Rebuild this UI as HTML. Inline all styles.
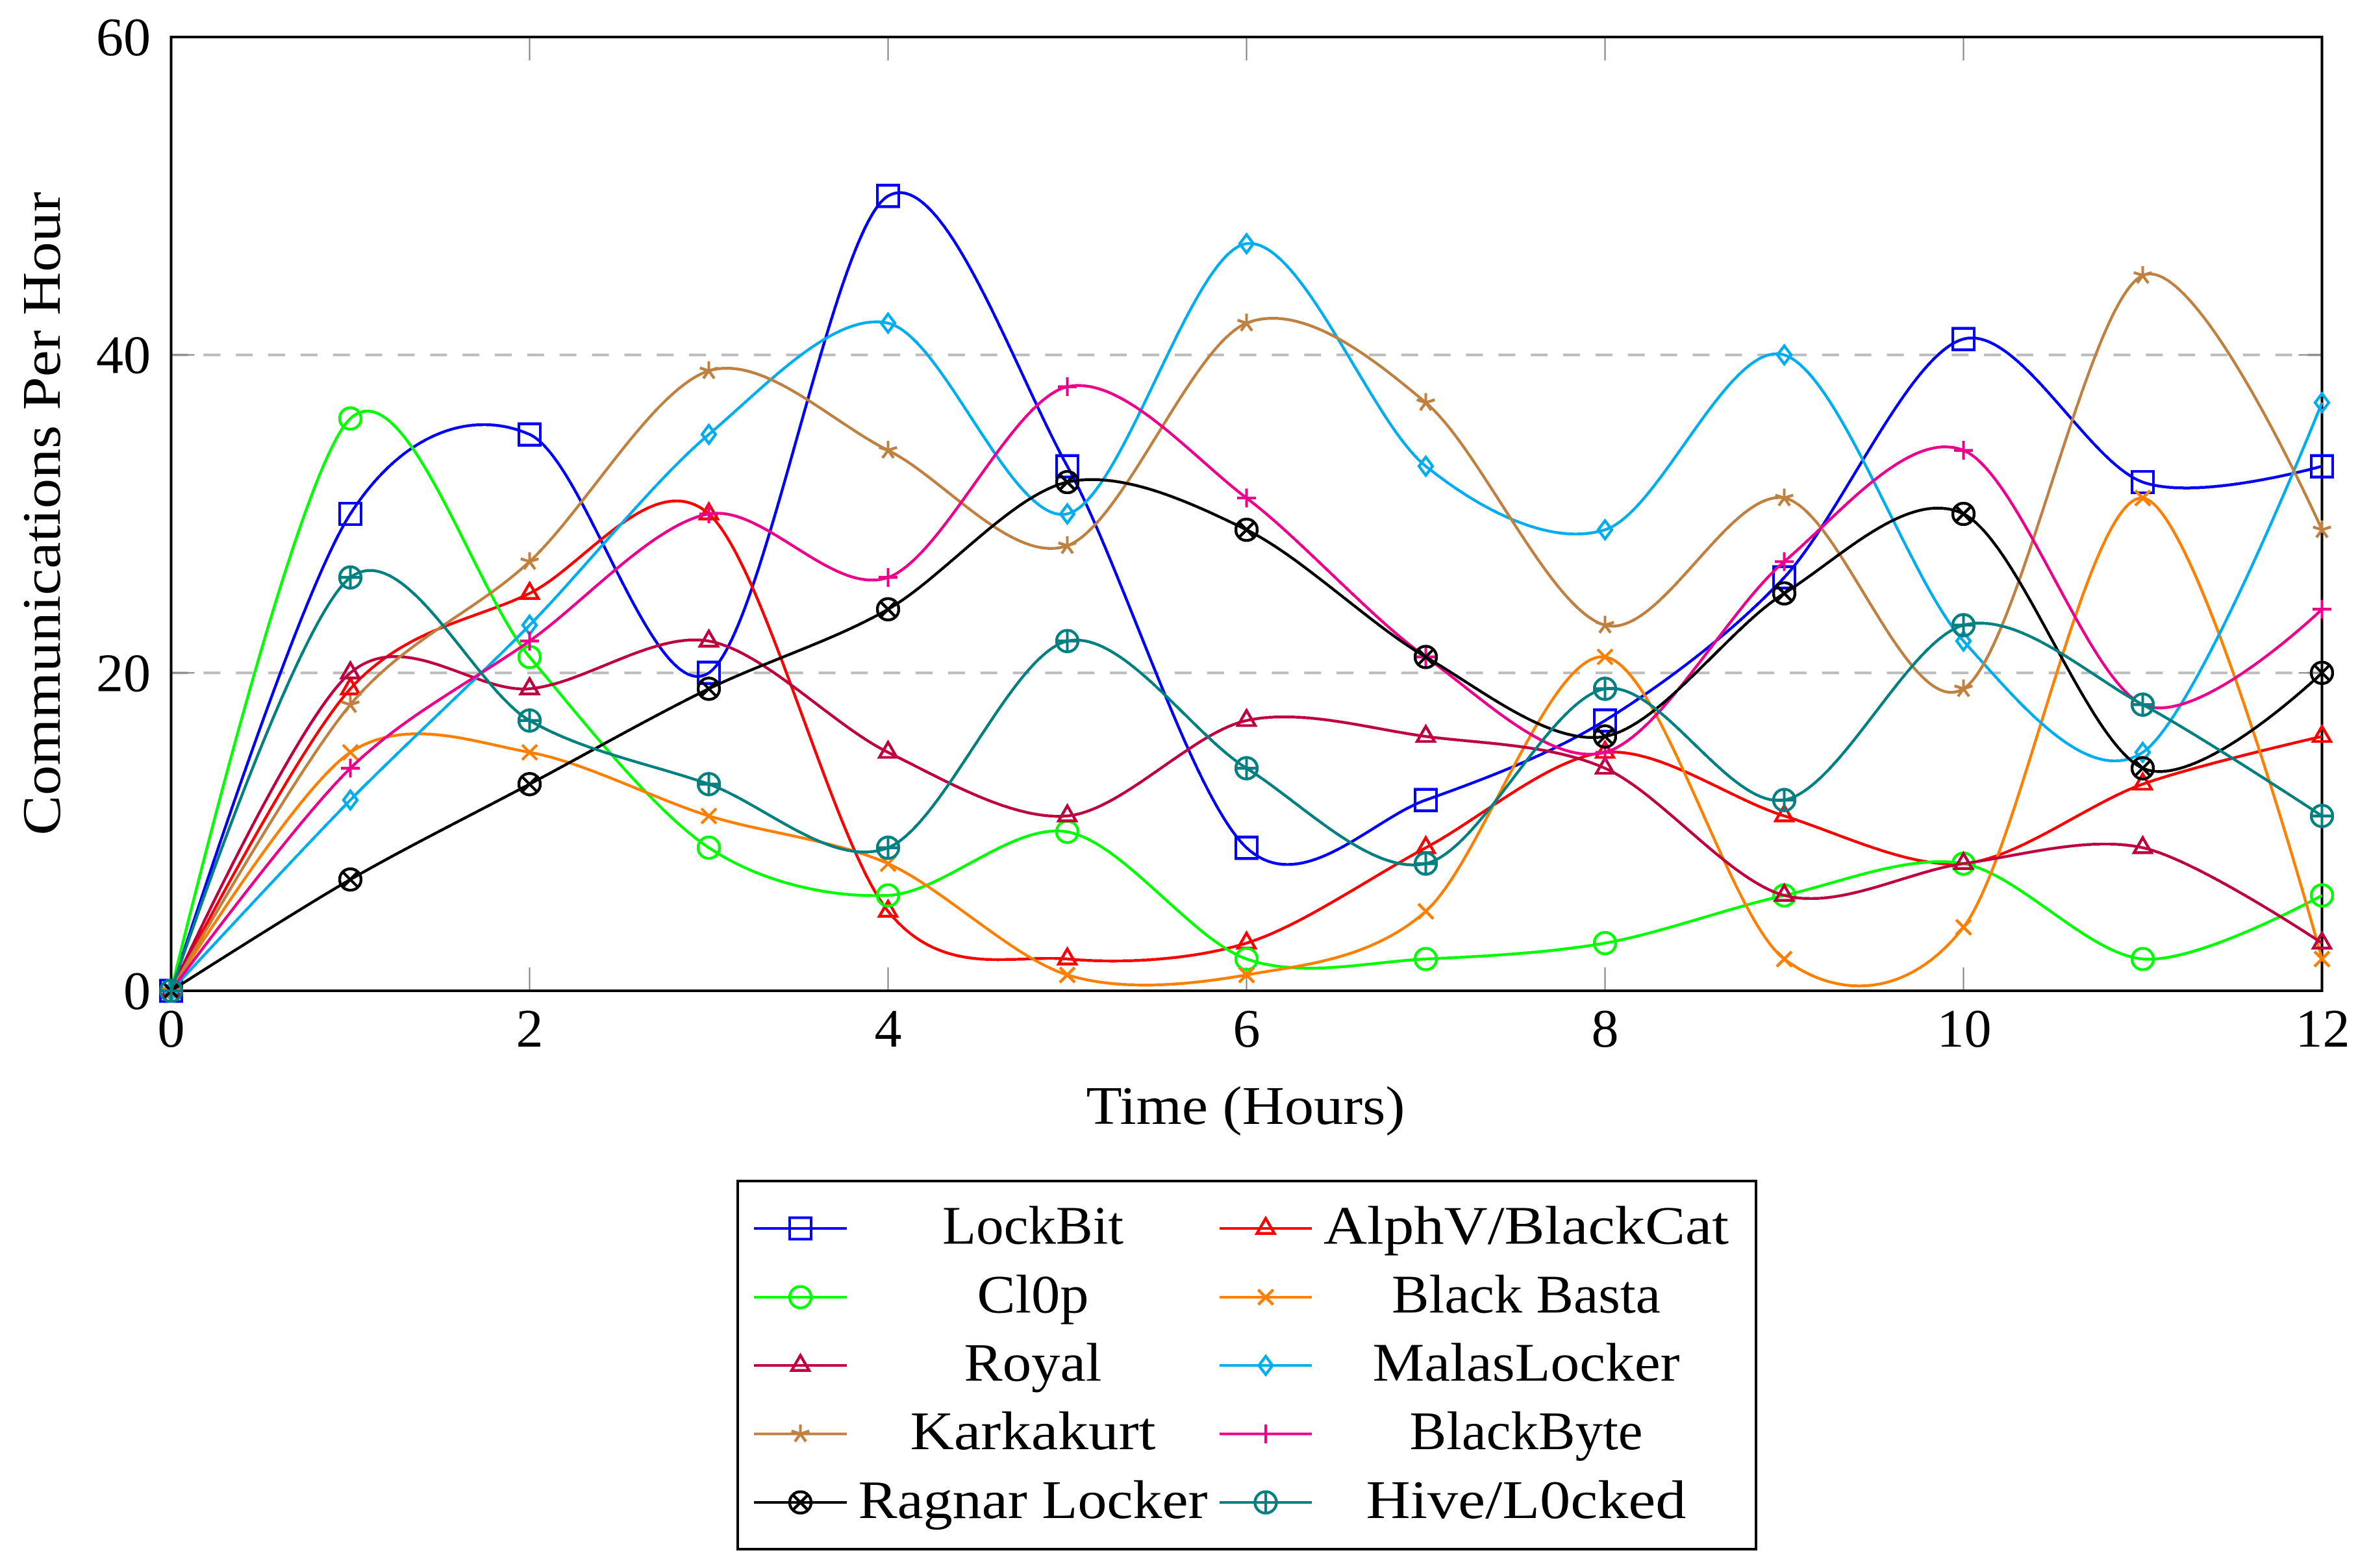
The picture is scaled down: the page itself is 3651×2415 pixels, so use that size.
<!DOCTYPE html>
<html lang="en">
<head>
<meta charset="utf-8">
<title>Communications Per Hour</title>
<style>
html,body{margin:0;padding:0;background:#fff;}
svg{display:block;font-family:"Liberation Serif",serif;}
</style>
</head>
<body>
<svg id="chart" xmlns="http://www.w3.org/2000/svg" width="3651" height="2415" viewBox="0 0 3651 2415">
<rect x="0" y="0" width="3651" height="2415" fill="#ffffff"/>
<g id="grid"></g>
<g id="ticks"></g>
<g id="plots"></g>
<rect x="263.5" y="57" width="3312" height="1469" fill="none" stroke="#000" stroke-width="4"/>
<g id="plots-over" shape-rendering="crispEdges"></g>
<g id="labels"></g>
<text x="1918" y="1731" font-size="84" text-anchor="middle" textLength="491" lengthAdjust="spacingAndGlyphs">Time (Hours)</text>
<text transform="translate(92,791) rotate(-90)" font-size="84" text-anchor="middle" textLength="991" lengthAdjust="spacingAndGlyphs">Communications Per Hour</text>
<g id="legend">
<rect x="1136" y="1819" width="1568" height="567" fill="#fff" stroke="#000" stroke-width="4"/>
</g>
</svg>
<script>
const hours = [0,1,2,3,4,5,6,7,8,9,10,11,12];
const lockBit = [0,30,35,20,50,33,9,12,17,26,41,32,33];
const alphV = [0,19,25,30,5,2,3,9,15,11,8,13,16];
const cl0p = [0,36,21,9,6,10,2,2,3,6,8,2,6];
const blackBasta = [0,15,15,11,8,1,1,5,21,2,4,31,2];
const royal = [0,20,19,22,15,11,17,16,14,6,8,9,3];
const malasLocker = [0,12,23,35,42,30,47,33,29,40,22,15,37];
const karkakurt = [0,18,27,39,34,28,42,37,23,31,19,45,29];
const blackByte = [0,14,22,30,26,38,31,21,15,27,34,18,24];
const ragnarLocker = [0,7,13,19,24,32,29,21,16,25,30,14,20];
const hiveL0cked = [0,26,17,13,9,22,14,8,19,12,23,18,11];

const xTicks = [0,2,4,6,8,10,12];
const yTicks = [0,20,40,60];
const gridValues = [20,40];

const seriesNames = ["LockBit","AlphV/BlackCat","Cl0p","Black Basta","Royal","MalasLocker","Karkakurt","BlackByte","Ragnar Locker","Hive/L0cked"];
const seriesValues = [lockBit,alphV,cl0p,blackBasta,royal,malasLocker,karkakurt,blackByte,ragnarLocker,hiveL0cked];

const seriesColors = ["#0000ff","#ff0000","#00ff00","#ff8000","#bf0040","#00aeef","#bf8040","#ec008c","#000000","#008080"];
const seriesMarks = ["square","triangle","circle","cross","triangle","diamond","star","plus","otimes","oplus"];
const legendWidths = [279,624,172,414,212,473,378,359,538,493];

const SVGNS = "http://www.w3.org/2000/svg";
const sx = v => 263.5 + v * 276;
const sy = v => 1526 - v * 24.4833;
const TENSION = 0.55 * 0.2775;
const LINE = 4.4;

function make(tag, attrs, parent){
  const el = document.createElementNS(SVGNS, tag);
  for (const k in attrs) el.setAttribute(k, attrs[k]);
  parent.appendChild(el);
  return el;
}

function smoothPath(pts){
  let d = "M" + pts[0][0].toFixed(2) + " " + pts[0][1].toFixed(2);
  for (let i = 0; i < pts.length - 1; i++){
    const p = pts[i], q = pts[i+1];
    const prev = pts[i-1], next = pts[i+2];
    const c1 = prev ? [p[0] + TENSION*(q[0]-prev[0]), p[1] + TENSION*(q[1]-prev[1])] : p;
    const c2 = next ? [q[0] - TENSION*(next[0]-p[0]), q[1] - TENSION*(next[1]-p[1])] : q;
    d += "C" + c1[0].toFixed(2) + " " + c1[1].toFixed(2) + " " + c2[0].toFixed(2) + " " + c2[1].toFixed(2) + " " + q[0].toFixed(2) + " " + q[1].toFixed(2);
  }
  return d;
}

function markPath(kind, x, y){
  const r = 16.5;
  const f = n => n.toFixed(2);
  const circle = `M${f(x-r)} ${f(y)}a${r} ${r} 0 1 0 ${2*r} 0a${r} ${r} 0 1 0 ${-2*r} 0Z`;
  if (kind === "square") return `M${f(x-r)} ${f(y-r)}H${f(x+r)}V${f(y+r)}H${f(x-r)}Z`;
  if (kind === "circle") return circle;
  if (kind === "triangle") {
    const t = 15.5;
    return `M${f(x)} ${f(y-t)}L${f(x+0.866*t)} ${f(y+0.5*t)}H${f(x-0.866*t)}Z`;
  }
  if (kind === "diamond") {
    const t = 14;
    return `M${f(x)} ${f(y-t)}L${f(x+0.75*t)} ${f(y)}L${f(x)} ${f(y+t)}L${f(x-0.75*t)} ${f(y)}Z`;
  }
  if (kind === "cross") {
    const t = 11.5;
    return `M${f(x-t)} ${f(y-t)}L${f(x+t)} ${f(y+t)}M${f(x-t)} ${f(y+t)}L${f(x+t)} ${f(y-t)}`;
  }
  if (kind === "plus") {
    const t = 14.5;
    return `M${f(x-t)} ${f(y)}H${f(x+t)}M${f(x)} ${f(y-t)}V${f(y+t)}`;
  }
  if (kind === "star") {
    const t = 14.5;
    let d = "";
    for (let a = 0; a < 5; a++){
      const ang = (90 + a*72) * Math.PI/180;
      d += `M${f(x)} ${f(y)}L${f(x + t*Math.cos(ang))} ${f(y - t*Math.sin(ang))}`;
    }
    return d;
  }
  if (kind === "otimes") {
    const t = r * 0.7071;
    return circle + `M${f(x-t)} ${f(y-t)}L${f(x+t)} ${f(y+t)}M${f(x-t)} ${f(y+t)}L${f(x+t)} ${f(y-t)}`;
  }
  if (kind === "oplus") {
    return circle + `M${f(x-r)} ${f(y)}H${f(x+r)}M${f(x)} ${f(y-r)}V${f(y+r)}`;
  }
  return "";
}

const gridG = document.getElementById("grid");
gridValues.forEach(v => {
  const line = make("line", {x1:sx(0), x2:sx(12), y1:sy(v), y2:sy(v), stroke:"#bbbbbb", "stroke-width":4, "stroke-dasharray":"26 23.85"}, gridG);
  
  
});

const tickG = document.getElementById("ticks");
xTicks.forEach(v => {
  if (v === 0 || v === 12) return;
  [[1526,1490],[57,93]].forEach(ends => {
    const t = make("line", {x1:sx(v), x2:sx(v), y1:ends[0], y2:ends[1], stroke:"#808080", "stroke-width":2}, tickG);
    
    
  });
});
yTicks.forEach(v => {
  if (v === 0 || v === 60) return;
  [[263.5,299.5],[3575.5,3539.5]].forEach(ends => {
    const t = make("line", {x1:ends[0], x2:ends[1], y1:sy(v), y2:sy(v), stroke:"#808080", "stroke-width":2}, tickG);
    
    
  });
});

const plotsG = document.getElementById("plots-over");
seriesValues.forEach((vals, i) => {
  const g = make("g", {fill:"none", stroke:seriesColors[i], "stroke-width":LINE, "stroke-linejoin":"miter"}, plotsG);
  
  
  const pts = vals.map((v, k) => [sx(hours[k]), sy(v)]);
  const line = make("path", {d:smoothPath(pts)}, g);
  
  
  pts.forEach(p => {
    const mark = make("path", {d:markPath(seriesMarks[i], p[0], p[1])}, g);
    
    
  });
});

const labelG = document.getElementById("labels");
xTicks.forEach(v => {
  const t = make("text", {x:sx(v) + (v >= 10 ? 1 : 0), y:1612, "font-size":84, "text-anchor":"middle"}, labelG);
  t.textContent = String(v);
  
  
});
yTicks.forEach(v => {
  const t = make("text", {x:232, y:sy(v) + 28, "font-size":84, "text-anchor":"end"}, labelG);
  t.textContent = String(v);
  
  
});

const legendG = document.getElementById("legend");
const legendRowLineY = [1892,1998,2103,2208.5,2314];
const legendRowBase = [1915.5,2021.5,2126.5,2232,2338];
seriesNames.forEach((name, i) => {
  const row = Math.floor(i / 2), col = i % 2;
  const x1 = col ? 1878 : 1161, x2 = col ? 2020 : 1304, cx = col ? 1949 : 1232.5;
  const tx = col ? 2350 : 1590.5;
  const y = legendRowLineY[row];
  const entry = make("g", {fill:"none", stroke:seriesColors[i], "stroke-width":LINE}, legendG);
  
  
  const sw = make("path", {d:`M${x1} ${y}H${x2}`, "shape-rendering":"crispEdges"}, entry);
  
  
  const m = make("path", {d:markPath(seriesMarks[i], cx, y), "shape-rendering":"crispEdges"}, entry);
  
  
  const t = make("text", {x:tx, y:legendRowBase[row], "font-size":84, "text-anchor":"middle", fill:"#000", stroke:"none", textLength:legendWidths[i], lengthAdjust:"spacingAndGlyphs"}, entry);
  t.textContent = name;
  
  
});
</script>
</body>
</html>
